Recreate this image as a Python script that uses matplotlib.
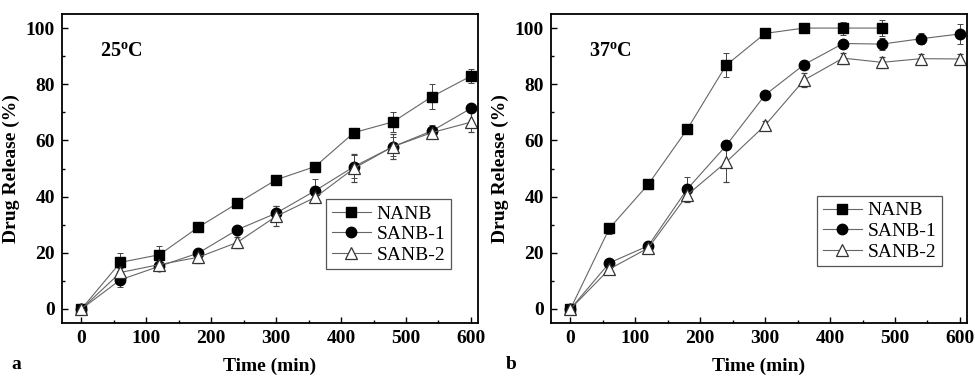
import matplotlib
matplotlib.use("Agg")
import matplotlib.pyplot as plt
from matplotlib.ticker import MultipleLocator
from matplotlib.lines import Line2D

plt.rcParams['font.family'] = ['Liberation Serif', 'DejaVu Serif']
plt.rcParams['mathtext.fontset'] = 'custom'
plt.rcParams['mathtext.rm'] = 'Liberation Serif'
plt.rcParams['mathtext.bf'] = 'Liberation Serif:bold'

time = [0, 60, 120, 180, 240, 300, 360, 420, 480, 540, 600]

# 25 C
a_nanb = [0, 16.6, 19.3, 29.1, 37.6, 46.0, 50.7, 62.8, 66.6, 75.6, 82.9]
a_nanb_err = [0, 3.2, 3.2, 0.8, 0.8, 1.2, 0.8, 0.8, 3.5, 4.5, 2.5]
a_s1 = [0, 10.4, 15.2, 19.9, 28.2, 34.1, 42.1, 50.7, 57.8, 63.4, 71.4]
a_s1_err = [0, 2.5, 1.0, 1.2, 1.0, 2.5, 4.0, 4.0, 3.5, 2.0, 1.0]
a_s2 = [0, 13.0, 15.8, 18.4, 23.7, 33.0, 39.7, 50.1, 57.8, 62.8, 66.5]
a_s2_err = [0, 1.5, 1.0, 2.0, 2.0, 3.5, 1.5, 5.0, 4.5, 1.5, 3.5]

# 37 C
time_b_nanb = [0, 60, 120, 180, 240, 300, 360, 420, 480]
b_nanb = [0, 28.7, 44.4, 64.0, 86.8, 98.1, 100.0, 100.0, 100.0]
b_nanb_err = [0, 2.0, 0.8, 0.8, 4.3, 0.8, 0.8, 2.3, 3.0]
b_s1 = [0, 16.4, 22.5, 42.7, 58.2, 76.2, 87.0, 94.5, 94.3, 96.2, 97.9]
b_s1_err = [0, 1.5, 1.5, 4.3, 1.0, 1.0, 1.0, 1.0, 2.0, 2.0, 3.5]
b_s2 = [0, 14.2, 21.7, 40.6, 52.3, 65.4, 81.5, 89.3, 87.8, 89.1, 89.0]
b_s2_err = [0, 1.5, 1.5, 2.5, 7.0, 1.5, 2.5, 2.0, 2.0, 1.8, 1.8]

labels = ['NANB', 'SANB-1', 'SANB-2']
temps = ['25', '37']
panel_tags = ['a', 'b']

fig = plt.figure(figsize=(9.75, 3.77), dpi=100)
ax1 = fig.add_axes([0.0636, 0.1432, 0.4267, 0.8196])
ax2 = fig.add_axes([0.5651, 0.1432, 0.4267, 0.8196])

lc = '#666666'

def draw(ax, series, temp, legend_anchor):
    styles = [dict(marker='s', mfc='black', mec='black', ms=7),
              dict(marker='o', mfc='black', mec='black', ms=7.5),
              dict(marker='^', mfc='white', mec='#333333', ms=8, mew=0.9)]
    handles = []
    for (x, y, e), lab, st in zip(series, labels, styles):
        ax.errorbar(x, y, yerr=e, color=lc, lw=0.8, elinewidth=0.7,
                    ecolor='#444444', capsize=2.5, capthick=0.7, **st)
        handles.append(Line2D([], [], color=lc, lw=0.8, label=lab, **st))
    ax.set_xlim(-30, 611)
    ax.set_ylim(-5, 105)
    ax.xaxis.set_major_locator(MultipleLocator(100))
    ax.xaxis.set_minor_locator(MultipleLocator(50))
    ax.yaxis.set_major_locator(MultipleLocator(20))
    ax.yaxis.set_minor_locator(MultipleLocator(10))
    ax.tick_params(which='both', direction='in', top=False, right=False, width=1.0)
    ax.tick_params(which='major', length=4.5, labelsize=14, pad=5)
    ax.tick_params(which='minor', length=2.5)
    for lab in ax.get_xticklabels() + ax.get_yticklabels():
        lab.set_fontweight('bold')
    for s in ax.spines.values():
        s.set_linewidth(1.3)
    ax.set_xlabel('Time (min)', fontsize=14, fontweight='bold', labelpad=8)
    ax.set_ylabel('Drug Release (%)', fontsize=14, fontweight='bold', labelpad=4)
    ax.text(29, 91.5, temp + r'$^{\mathbf{o}}$C', fontsize=14.5, fontweight='bold',
            va='center', ha='left')
    leg = ax.legend(handles=handles, loc='upper left', bbox_to_anchor=legend_anchor,
                    borderaxespad=0, fontsize=14, frameon=True, fancybox=False,
                    edgecolor='#555555', framealpha=1, handlelength=2.0,
                    handletextpad=0.3, borderpad=0.3, labelspacing=0.15)
    leg.get_frame().set_linewidth(0.9)

draw(ax1, [(time, a_nanb, a_nanb_err), (time, a_s1, a_s1_err), (time, a_s2, a_s2_err)],
     temps[0], (0.635, 0.401))
draw(ax2, [(time_b_nanb, b_nanb, b_nanb_err), (time, b_s1, b_s1_err), (time, b_s2, b_s2_err)],
     temps[1], (0.639, 0.411))

fig.text(0.012, 0.022, panel_tags[0], fontsize=14, fontweight='bold')
fig.text(0.519, 0.022, panel_tags[1], fontsize=14, fontweight='bold')

fig.savefig('out.png', dpi=100)
